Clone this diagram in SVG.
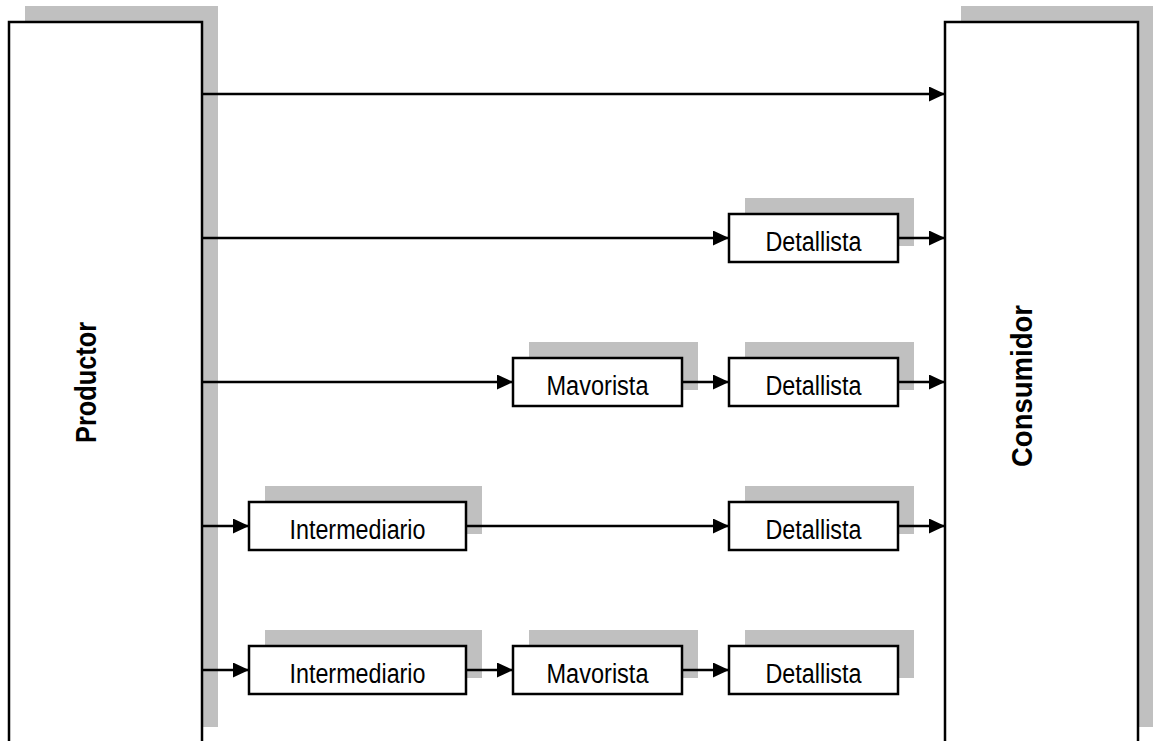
<svg xmlns="http://www.w3.org/2000/svg" width="1153" height="741" viewBox="0 0 1153 741">
  <style>
    .shadow { fill: #c0c0c0; }
    .box { fill: #ffffff; stroke: #000000; stroke-width: 2.5; }
    .label { font-family: "Liberation Sans", Arial, sans-serif; font-size: 27px; fill: #000000; text-anchor: middle; }
    .side { font-family: "Liberation Sans", Arial, sans-serif; font-size: 29px; font-weight: bold; fill: #000000; text-anchor: middle; }
    .link { stroke: #000000; stroke-width: 2.5; fill: none; marker-end: url(#head); }
  </style>
  <defs>
    <marker id="head" markerUnits="userSpaceOnUse" markerWidth="16" markerHeight="15" refX="16" refY="7.5" orient="auto">
      <path d="M0,0 L16,7.5 L0,15 Z" fill="#000000"/>
    </marker>
  </defs>
  <rect width="1153" height="741" fill="#ffffff"/>

  <g id="productor">
    <rect class="shadow" x="25" y="6" width="193" height="721"/>
    <rect class="box" x="9" y="22" width="193" height="740"/>
    <text class="side" transform="translate(96,382.5) rotate(-90)" textLength="121" lengthAdjust="spacingAndGlyphs">Productor</text>
  </g>

  <g id="consumidor">
    <rect class="shadow" x="961" y="6" width="192" height="721"/>
    <rect class="box" x="945" y="22" width="193" height="740"/>
    <text class="side" transform="translate(1032,386) rotate(-90)" textLength="162" lengthAdjust="spacingAndGlyphs">Consumidor</text>
  </g>

  <!-- channel 2 -->
  <g id="detallista-1">
    <rect class="shadow" x="745" y="198" width="169" height="48"/>
    <rect class="box" x="729" y="214" width="169" height="48"/>
    <text class="label" x="813.5" y="251" textLength="96" lengthAdjust="spacingAndGlyphs">Detallista</text>
  </g>

  <!-- channel 3 -->
  <g id="mavorista-1">
    <rect class="shadow" x="529" y="342" width="169" height="48"/>
    <rect class="box" x="513" y="358" width="169" height="48"/>
    <text class="label" x="597.5" y="395" textLength="102" lengthAdjust="spacingAndGlyphs">Mavorista</text>
  </g>
  <g id="detallista-2">
    <rect class="shadow" x="745" y="342" width="169" height="48"/>
    <rect class="box" x="729" y="358" width="169" height="48"/>
    <text class="label" x="813.5" y="395" textLength="96" lengthAdjust="spacingAndGlyphs">Detallista</text>
  </g>

  <!-- channel 4 -->
  <g id="intermediario-1">
    <rect class="shadow" x="265" y="486" width="217" height="48"/>
    <rect class="box" x="249" y="502" width="217" height="48"/>
    <text class="label" x="357.5" y="539" textLength="136" lengthAdjust="spacingAndGlyphs">Intermediario</text>
  </g>
  <g id="detallista-3">
    <rect class="shadow" x="745" y="486" width="169" height="48"/>
    <rect class="box" x="729" y="502" width="169" height="48"/>
    <text class="label" x="813.5" y="539" textLength="96" lengthAdjust="spacingAndGlyphs">Detallista</text>
  </g>

  <!-- channel 5 -->
  <g id="intermediario-2">
    <rect class="shadow" x="265" y="630" width="217" height="48"/>
    <rect class="box" x="249" y="646" width="217" height="48"/>
    <text class="label" x="357.5" y="683" textLength="136" lengthAdjust="spacingAndGlyphs">Intermediario</text>
  </g>
  <g id="mavorista-2">
    <rect class="shadow" x="529" y="630" width="169" height="48"/>
    <rect class="box" x="513" y="646" width="169" height="48"/>
    <text class="label" x="597.5" y="683" textLength="102" lengthAdjust="spacingAndGlyphs">Mavorista</text>
  </g>
  <g id="detallista-4">
    <rect class="shadow" x="745" y="630" width="169" height="48"/>
    <rect class="box" x="729" y="646" width="169" height="48"/>
    <text class="label" x="813.5" y="683" textLength="96" lengthAdjust="spacingAndGlyphs">Detallista</text>
  </g>

  <g id="connectors">
    <line class="link" x1="202" y1="94" x2="945" y2="94"/>

    <line class="link" x1="202" y1="238" x2="729" y2="238"/>
    <line class="link" x1="898" y1="238" x2="945" y2="238"/>

    <line class="link" x1="202" y1="382" x2="513" y2="382"/>
    <line class="link" x1="682" y1="382" x2="729" y2="382"/>
    <line class="link" x1="898" y1="382" x2="945" y2="382"/>

    <line class="link" x1="202" y1="526" x2="249" y2="526"/>
    <line class="link" x1="466" y1="526" x2="729" y2="526"/>
    <line class="link" x1="898" y1="526" x2="945" y2="526"/>

    <line class="link" x1="202" y1="670" x2="249" y2="670"/>
    <line class="link" x1="466" y1="670" x2="513" y2="670"/>
    <line class="link" x1="682" y1="670" x2="729" y2="670"/>
  </g>
</svg>
